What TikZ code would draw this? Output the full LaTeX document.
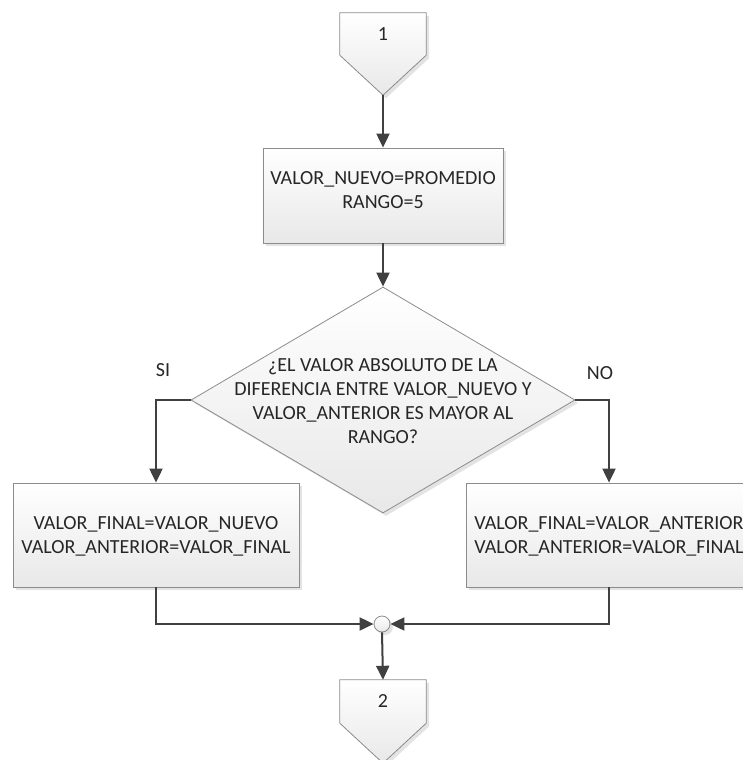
\documentclass[tikz,border=0pt]{standalone}
\usepackage{fontspec}
\setmainfont{Carlito}
\usetikzlibrary{arrows.meta,shapes.geometric,shadows,calc,backgrounds}
\definecolor{linec}{HTML}{404040}
\definecolor{edgec}{HTML}{8C8C8C}
\definecolor{txt}{HTML}{262626}
\begin{document}
\begin{tikzpicture}[x=1pt,y=-1pt, font=\fontsize{20}{24}\selectfont, text=txt,
  box/.style={draw=edgec, line width=0.8pt, top color=white, bottom color=black!9,
    drop shadow={shadow xshift=3pt,shadow yshift=-3pt,opacity=0.22}},
  rbox/.style={box, align=center, inner sep=0, minimum width=286pt, minimum height=104pt},
  conn/.style={draw=linec, line width=2pt},
  arr/.style={conn, -{Triangle[length=14pt,width=13pt]}},
  lbl/.style={inner sep=0, align=center}]
\useasboundingbox (0,0) rectangle (743,760);
\clip (0,0) rectangle (743,760);

% off-page connector 1
\node[lbl, minimum width=86pt, minimum height=42pt] (c1) at (383,34) {1};
\coordinate (c1tip) at ($(c1.south)+(0,40)$);
\begin{pgfonlayer}{background}
\path[box] (c1.north west) -- (c1.north east) -- (c1.south east) -- (c1tip) -- (c1.south west) -- cycle;
\end{pgfonlayer}

% process box
\node[rbox, minimum width=240pt, minimum height=95pt] (b1) at (383,195.5) {};
\node[lbl] (b1t) at (383,190) {VALOR\_NUEVO=PROMEDIO\\RANGO=5};

% decision
\node[diamond, box, inner sep=0, minimum width=384pt, minimum height=226pt] (d) at (383,400) {};
\node[lbl] (dq) at (383,401) {¿EL VALOR ABSOLUTO DE LA\\DIFERENCIA ENTRE VALOR\_NUEVO Y\\VALOR\_ANTERIOR ES MAYOR AL\\RANGO?};
\node[lbl] (si) at (163,370) {SI};
\node[lbl] (no) at (600,373) {NO};

% branch boxes
\node[rbox] (lb) at (156,535) {};
\node[lbl] (lbt) at (156,536) {VALOR\_FINAL=VALOR\_NUEVO\\VALOR\_ANTERIOR=VALOR\_FINAL};
\node[rbox] (rb) at (609,535) {};
\node[lbl] (rbt) at (609,536) {VALOR\_FINAL=VALOR\_ANTERIOR\\VALOR\_ANTERIOR=VALOR\_FINAL};

% merge
\node[circle, box, inner sep=0, minimum size=16pt] (m) at (382,624) {};

% off-page connector 2
\node[lbl, minimum width=86pt, minimum height=43pt] (c2) at (383,701.5) {2};
\coordinate (c2tip) at ($(c2.south)+(0,40)$);
\begin{pgfonlayer}{background}
\path[box] (c2.north west) -- (c2.north east) -- (c2.south east) -- (c2tip) -- (c2.south west) -- cycle;
\end{pgfonlayer}

% connectors
\draw[arr] (c1tip) -- (b1.north);
\draw[arr] (b1.south) -- (d.north);
\draw[arr] (d.west) -| (lb.north);
\draw[arr] (d.east) -| (rb.north);
\draw[arr] (lb.south) |- (m.west);
\draw[arr] (rb.south) |- (m.east);
\draw[arr] (m.south) -- (c2.north);
\end{tikzpicture}
\end{document}
